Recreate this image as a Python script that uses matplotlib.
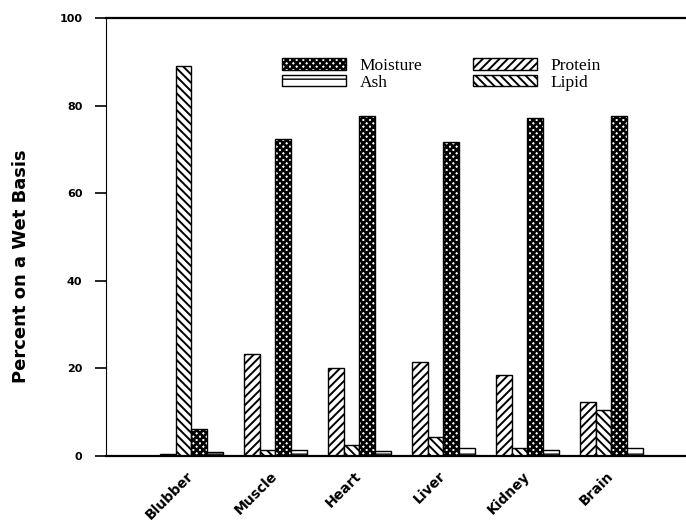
import matplotlib
matplotlib.use("Agg")
import matplotlib.pyplot as plt
import numpy as np

# Proximate composition of tissues (percent, wet basis)
tissues = ["Blubber", "Muscle", "Heart", "Liver", "Kidney", "Brain"]
protein = [0.5, 23.3, 20.2, 21.4, 18.4, 12.4]
lipid = [89.0, 1.4, 2.5, 4.3, 1.8, 10.5]
moisture = [6.1, 72.3, 77.6, 71.8, 77.1, 77.7]
ash = [1.0, 1.4, 1.2, 1.8, 1.4, 1.9]
yticks = [0, 20, 40, 60, 80, 100]

plt.rcParams['hatch.linewidth'] = 1.3
plt.rcParams['font.family'] = ['DejaVu Sans']

fig = plt.figure(figsize=(6.86, 5.30), dpi=100)
ax = fig.add_axes([106 / 686, 1 - 456 / 530, 579 / 686, 438 / 530])

x = np.arange(len(tissues))
w = 0.187
series = [
    (protein, '////', 'Protein', 1.4),
    (lipid, '\\\\\\\\', 'Lipid', 1.4),
    (moisture, 'xxxxx', 'Moisture', 1.9),
    (ash, '--', 'Ash', 1.0),
]
hatch_lw = {}
handles = {}
for k, (vals, hatch, name, hlw) in enumerate(series):
    bars = ax.bar(x + (k - 1.5) * w, vals, width=w,
                  facecolor='white', edgecolor='black',
                  linewidth=1.0, hatch=hatch, label=name)
    for p in bars:
        if hasattr(p, 'set_hatch_linewidth'):
            p.set_hatch_linewidth(hlw)
    handles[name] = bars
    hatch_lw[name] = hlw

ax.set_xlim(-1.017, 5.876)
ax.set_ylim(0, 100)
ax.set_yticks(yticks)
ax.set_yticklabels([str(t) for t in yticks], fontweight='bold', fontsize=8)
ax.tick_params(axis='y', direction='out', length=8, width=1.2, pad=9)
ax.set_xticks(x)
ax.set_xticklabels(tissues, rotation=45, ha='right', va='center',
                   rotation_mode='anchor', fontweight='bold', fontsize=10)
ax.tick_params(axis='x', length=0, pad=13)

ax.spines['right'].set_visible(False)
ax.spines['top'].set_linewidth(1.6)
ax.spines['bottom'].set_linewidth(1.6)
ax.spines['left'].set_linewidth(0.8)

order = ['Moisture', 'Ash', 'Protein', 'Lipid']
fs = 12.5
leg = ax.legend([handles[n] for n in order], order, ncol=2, frameon=False,
                prop={'family': 'Liberation Serif', 'size': fs},
                loc='upper left', bbox_to_anchor=(282 / 686, 1 - 58 / 530),
                bbox_transform=fig.transFigure, borderpad=0, borderaxespad=0,
                handlelength=3.68, handleheight=0.63, handletextpad=0.8,
                columnspacing=2.9, labelspacing=0.05)
for p, n in zip(leg.get_patches(), order):
    if hasattr(p, 'set_hatch_linewidth'):
        p.set_hatch_linewidth(hatch_lw[n])

fig.text(21 / 686, 1 - 266 / 530, 'Percent on a Wet Basis', rotation=90,
         ha='center', va='center', fontweight='bold', fontsize=13)

fig.savefig('out.png', dpi=100)
